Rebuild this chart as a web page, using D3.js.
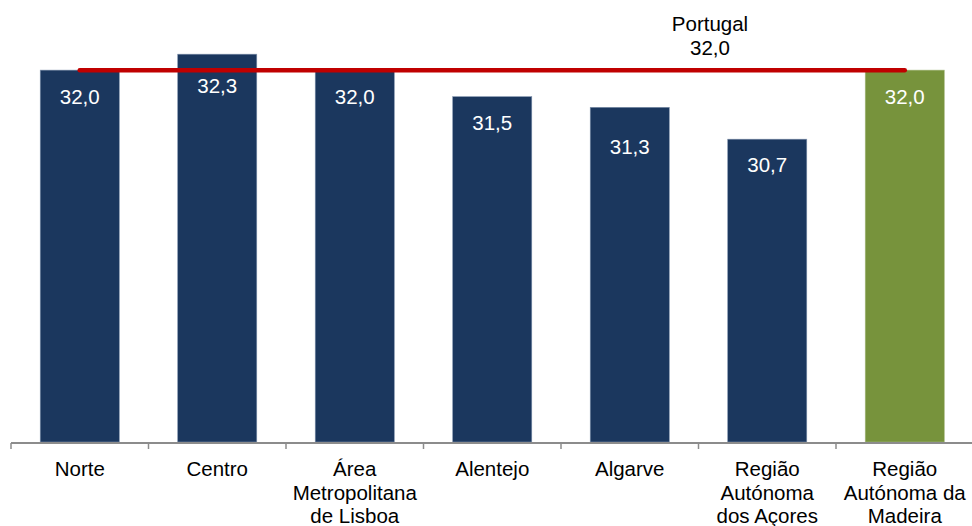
<!DOCTYPE html>
<html>
<head>
<meta charset="utf-8">
<script src="https://cdn.jsdelivr.net/npm/d3@7"></script>
<style>
  body { margin: 0; background: #fff; }
  svg text { font-family: "Liberation Sans", Arial, sans-serif; }
</style>
</head>
<body>
<script>
// regions and values
var regions = [
	['Norte'],
	['Centro'],
	['Área', 'Metropolitana', 'de Lisboa'],
	['Alentejo'],
	['Algarve'],
	['Região', 'Autónoma', 'dos Açores'],
	['Região', 'Autónoma da', 'Madeira']
];
var values = [32.0, 32.3, 32.0, 31.5, 31.3, 30.7, 32.0];
var portugal = 32.0;
var portugalLabel = ['Portugal', '32,0'];

// label nudges (px below bar top), as in the original
var labelDy = [34, 39, 34, 33, 47, 33, 34];

var W = 972, H = 526;

var svg = d3.select('body')
			.append('svg')
			.attr('width', W)
			.attr('height', H);

var x = d3.scaleBand()
			.domain(d3.range(values.length))
			.range([11, 973.5])
			.paddingInner(0.425)
			.paddingOuter(0.2125);

var y = d3.scaleLinear()
			.domain([25, 33])
			.range([442, 17]);

var fmt = function(v){ return d3.format('.1f')(v).replace('.', ','); };

// bars
svg.append('g')
	.selectAll('rect')
	.data(values)
	.enter()
	.append('rect')
	.attr('x', (d, i) => x(i))
	.attr('y', d => y(d))
	.attr('width', x.bandwidth())
	.attr('height', d => y(25) - y(d))
	.attr('fill', (d, i) => i == values.length - 1 ? '#77933c' : '#1b375e')
	.attr('stroke', (d, i) => i == values.length - 1 ? '#a5b880' : '#7d90aa')
	.attr('stroke-width', 0.6);

// value labels
svg.append('g')
	.selectAll('text')
	.data(values)
	.enter()
	.append('text')
	.attr('x', (d, i) => x(i) + x.bandwidth() / 2)
	.attr('y', (d, i) => y(d) + labelDy[i])
	.attr('text-anchor', 'middle')
	.attr('fill', '#fff')
	.style('font-size', '20.5px')
	.text(d => fmt(d));

// Portugal line
var first = x(0) + x.bandwidth() / 2;
var last = x(values.length - 1) + x.bandwidth() / 2;
svg.append('line')
	.attr('x1', first)
	.attr('x2', last)
	.attr('y1', y(portugal))
	.attr('y2', y(portugal))
	.attr('stroke', '#c00000')
	.attr('stroke-width', 4.5)
	.attr('stroke-linecap', 'round');

svg.append('text')
	.attr('text-anchor', 'middle')
	.attr('fill', '#000')
	.style('font-size', '20.5px')
	.selectAll('tspan')
	.data(portugalLabel)
	.enter()
	.append('tspan')
	.attr('x', 710)
	.attr('y', (d, i) => 31 + i * 24)
	.text(d => d);

// category axis
var axisY = 443;
var edges = d3.range(values.length + 1).map(i => 11 + i * x.step());
svg.append('line')
	.attr('x1', 11)
	.attr('x2', W)
	.attr('y1', axisY)
	.attr('y2', axisY)
	.attr('stroke', '#8c8c8c')
	.attr('stroke-width', 2);
svg.append('g')
	.selectAll('line')
	.data(edges)
	.enter()
	.append('line')
	.attr('x1', d => d)
	.attr('x2', d => d)
	.attr('y1', axisY)
	.attr('y2', axisY + 6)
	.attr('stroke', '#8c8c8c')
	.attr('stroke-width', 1.5);

var cats = svg.append('g')
	.selectAll('text')
	.data(regions)
	.enter()
	.append('text')
	.attr('text-anchor', 'middle')
	.attr('fill', '#000')
	.style('font-size', '20.5px');
cats.selectAll('tspan')
	.data((d, i) => d.map(t => ({t: t, i: i})))
	.enter()
	.append('tspan')
	.attr('x', d => x(d.i) + x.bandwidth() / 2)
	.attr('y', (d, j) => 476 + j * 23.5)
	.text(d => d.t);
</script>
</body>
</html>
